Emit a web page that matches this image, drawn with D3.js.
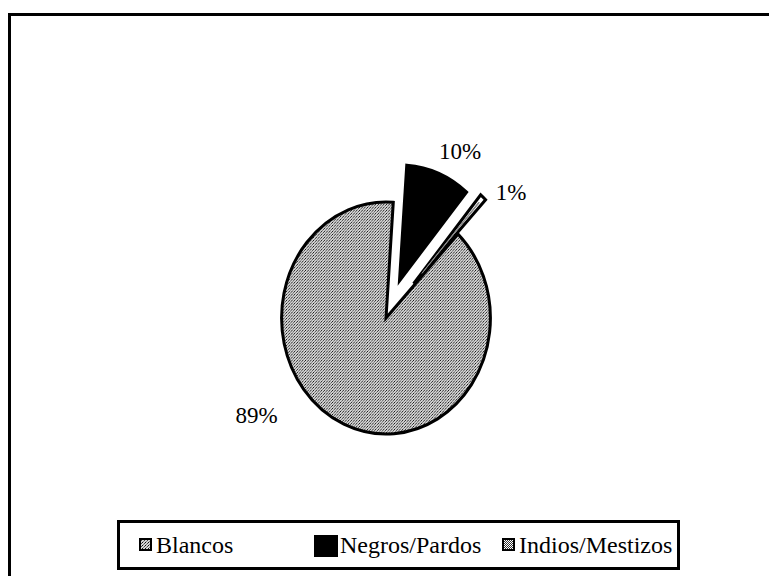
<!DOCTYPE html>
<meta charset="utf-8">
<style>
    body { margin: 0; background: #fff; }
    svg { display: block; }
</style>
<script src="https://d3js.org/d3.v7.min.js"></script>
<body>
<div id="chart"></div>
<script>
    // data
    var categories = ["Blancos", "Negros/Pardos", "Indios/Mestizos"];
    var values = [89, 10, 1];
    var labels = ["89%", "10%", "1%"];

    // styling / layout
    var width = 769, height = 576;
    var font = "'Liberation Serif'";
    var cx = 386, cy = 318, radius = 116, squashX = 0.9;
    var firstSliceDeg = 43.6;
    var explode = [0, 40, 46];
    var labelAt = [[233, 162], [24, 182], [45, 177]];   // [angle deg, distance]
    var legendX = [139, 315, 502];

    var svg = d3.select("#chart").append("svg")
        .attr("width", width)
        .attr("height", height);

    var defs = svg.append("defs");
    var dots = defs.append("pattern")
        .attr("id", "dots")
        .attr("width", 3).attr("height", 3)
        .attr("patternUnits", "userSpaceOnUse");
    dots.append("rect").attr("width", 3).attr("height", 3).attr("fill", "#d4d4d4");
    dots.append("rect").attr("width", 1).attr("height", 1).attr("fill", "#111");
    dots.append("rect").attr("x", 2).attr("y", 1).attr("width", 1).attr("height", 1).attr("fill", "#444");
    dots.append("rect").attr("x", 1).attr("y", 2).attr("width", 1).attr("height", 1).attr("fill", "#777");

    var checks = defs.append("pattern")
        .attr("id", "checks")
        .attr("width", 2).attr("height", 2)
        .attr("patternUnits", "userSpaceOnUse");
    checks.append("rect").attr("width", 2).attr("height", 2).attr("fill", "#fff");
    checks.append("rect").attr("width", 1).attr("height", 1).attr("fill", "#333");
    checks.append("rect").attr("x", 1).attr("y", 1).attr("width", 1).attr("height", 1).attr("fill", "#333");

    var fills = ["url(#dots)", "#000", "#fff"];
    var legendFills = ["url(#dots)", "#000", "url(#checks)"];

    // outer frame (runs off the right and bottom of the scan)
    svg.append("rect")
        .attr("x", 9.5).attr("y", 14.5)
        .attr("width", 800).attr("height", 600)
        .attr("fill", "none")
        .attr("stroke", "#000")
        .attr("stroke-width", 3);

    var deg = Math.PI / 180;
    var pie = d3.pie()
        .sort(null)
        .startAngle(firstSliceDeg * deg)
        .endAngle(firstSliceDeg * deg + 2 * Math.PI)
        .value(function (d) { return d; });

    var arc = d3.arc().innerRadius(0).outerRadius(radius);
    var slices = pie(values);

    function shift(d, i) {
        var mid = (d.startAngle + d.endAngle) / 2;
        return "translate(" + (Math.sin(mid) * explode[i]) + "," + (-Math.cos(mid) * explode[i]) + ")";
    }

    var g = svg.append("g")
        .attr("transform", "translate(" + cx + "," + cy + ") scale(" + squashX + ",1)");

    g.selectAll("path.slice")
        .data(slices)
        .enter().append("path")
        .attr("class", "slice")
        .attr("d", arc)
        .attr("transform", shift)
        .attr("fill", function (d, i) { return fills[i]; })
        .attr("stroke", "#000")
        .attr("stroke-width", 3)
        .attr("stroke-linejoin", "miter")
        .attr("vector-effect", "non-scaling-stroke");

    // inner grey line of the thin slice
    var thin = slices[2];
    var thinMid = (thin.startAngle + thin.endAngle) / 2;
    g.append("path")
        .attr("d", d3.arc().innerRadius(14).outerRadius(radius - 7)
            .startAngle(thinMid - 0.004)
            .endAngle(thinMid + 0.004)())
        .attr("transform", shift(thin, 2))
        .attr("fill", "#888")
        .attr("stroke", "#888")
        .attr("stroke-width", 1)
        .attr("vector-effect", "non-scaling-stroke");

    // percentage labels
    svg.selectAll("text.pct")
        .data(labels)
        .enter().append("text")
        .attr("class", "pct")
        .attr("x", function (d, i) { return cx + Math.sin(labelAt[i][0] * deg) * labelAt[i][1]; })
        .attr("y", function (d, i) { return cy - Math.cos(labelAt[i][0] * deg) * labelAt[i][1]; })
        .attr("text-anchor", "middle")
        .attr("dominant-baseline", "central")
        .attr("font-family", font)
        .attr("font-size", 23)
        .text(function (d) { return d; });

    // legend
    svg.append("rect")
        .attr("x", 118.5).attr("y", 521.5)
        .attr("width", 560).attr("height", 47)
        .attr("fill", "#fff")
        .attr("stroke", "#000")
        .attr("stroke-width", 3);

    var items = svg.selectAll("g.legend")
        .data(categories)
        .enter().append("g")
        .attr("class", "legend")
        .attr("transform", function (d, i) { return "translate(" + legendX[i] + ",545)"; });

    items.append("rect")
        .attr("x", function (d, i) { return i === 1 ? 0 : 1; })
        .attr("y", function (d, i) { return i === 1 ? -9 : -6; })
        .attr("width", function (d, i) { return i === 1 ? 22 : 11; })
        .attr("height", function (d, i) { return i === 1 ? 20 : 11; })
        .attr("fill", function (d, i) { return legendFills[i]; })
        .attr("stroke", "#000")
        .attr("stroke-width", 2);

    items.append("text")
        .attr("x", function (d, i) { return i === 1 ? 25 : 17; })
        .attr("y", 8)
        .attr("font-family", font)
        .attr("font-size", 24)
        .text(function (d) { return d; });
</script>
</body>
